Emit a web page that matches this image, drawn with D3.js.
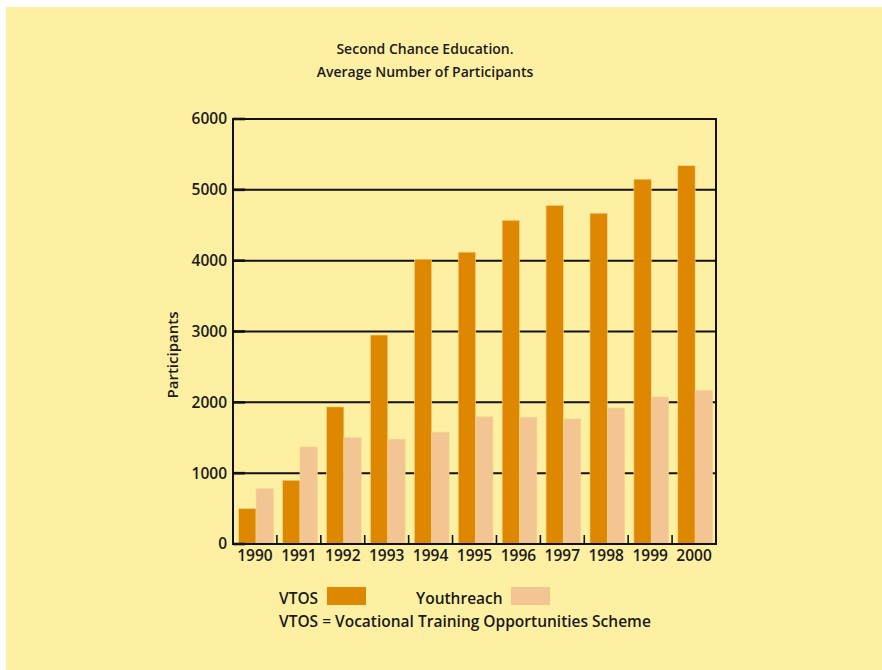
<!DOCTYPE html>
<html>
<head>
<meta charset="utf-8">
<script src="https://cdn.jsdelivr.net/npm/d3@7"></script>
<style>
  body { margin: 0; background: #fff; }
  text { font-family: "Open Sans", "DejaVu Sans", sans-serif; font-weight: 600; fill: #1a1a1a; }
</style>
</head>
<body>
<svg id="chart" width="882" height="670"></svg>
<script>
const years = ["1990", "1991", "1992", "1993", "1994", "1995", "1996", "1997", "1998", "1999", "2000"];
const vtos = [500, 900, 1935, 2950, 4020, 4120, 4570, 4780, 4670, 5150, 5340];
const youthreach = [780, 1370, 1500, 1480, 1580, 1795, 1790, 1765, 1920, 2075, 2165];
const seriesNames = ["VTOS", "Youthreach"];
const seriesColors = ["#de8700", "#f2c592"];
const yTicks = [0, 1000, 2000, 3000, 4000, 5000, 6000];

const svg = d3.select('#chart');

// page background
svg.append('rect')
    .attr('x', 6).attr('y', 7)
    .attr('width', 882).attr('height', 670)
    .attr('fill', '#fef0a3');

const plotLeft = 233, plotRight = 716, plotTop = 119, plotBottom = 544;

const x0 = d3.scaleBand().domain(years).range([plotLeft, plotRight]);
const x1 = d3.scaleBand().domain(seriesNames)
    .range([x0.bandwidth() * 0.13, x0.bandwidth() * 0.92]);
const y = d3.scaleLinear().domain([0, 6000]).range([plotBottom, plotTop]);

// title
svg.append('text').attr('x', 425).attr('y', 54).attr('text-anchor', 'middle')
    .attr('font-size', 14).text('Second Chance Education.');
svg.append('text').attr('x', 425).attr('y', 77).attr('text-anchor', 'middle')
    .attr('font-size', 14).text('Average Number of Participants');

// gridlines
svg.append('g').selectAll('line')
    .data(yTicks.filter(d => d > 0))
    .enter().append('line')
    .attr('x1', plotLeft).attr('x2', plotRight)
    .attr('y1', d => y(d)).attr('y2', d => y(d))
    .attr('stroke', '#111').attr('stroke-width', 2);

// bars
const data = years.map((yr, i) => ({ year: yr, values: [vtos[i], youthreach[i]] }));
svg.append('g').selectAll('g')
    .data(data)
    .enter().append('g')
    .attr('transform', d => `translate(${x0(d.year)},0)`)
    .selectAll('rect')
    .data(d => d.values.map((v, i) => ({ key: seriesNames[i], value: v, color: seriesColors[i] })))
    .enter().append('rect')
    .attr('x', d => x1(d.key))
    .attr('y', d => y(d.value))
    .attr('width', x1.bandwidth())
    .attr('height', d => y(0) - y(d.value))
    .attr('fill', d => d.color)
    .attr('stroke', '#f6d48a')
    .attr('stroke-width', 0.6);

// frame: left axis, right border, baseline
const frame = svg.append('g').attr('stroke', '#111').attr('fill', 'none');
frame.append('line').attr('x1', plotLeft).attr('x2', plotLeft).attr('y1', plotTop - 1).attr('y2', plotBottom + 1).attr('stroke-width', 2);
frame.append('line').attr('x1', plotRight).attr('x2', plotRight).attr('y1', plotTop - 1).attr('y2', plotBottom + 1).attr('stroke-width', 2);
frame.append('line').attr('x1', plotLeft).attr('x2', plotRight).attr('y1', plotBottom).attr('y2', plotBottom).attr('stroke-width', 2);

// y axis labels + small outer ticks
const yAxis = d3.axisLeft(y).tickValues(yTicks).tickFormat(d3.format('d')).tickSize(0).tickPadding(6);
const yg = svg.append('g').attr('transform', `translate(${plotLeft},0)`).call(yAxis);
yg.select('.domain').remove();
yg.selectAll('text').attr('font-size', 15.5).attr('fill', '#1a1a1a')
    .style('font-family', '"Open Sans", sans-serif').style('font-weight', 600);
svg.append('g').selectAll('line')
    .data(yTicks)
    .enter().append('line')
    .attr('x1', plotLeft).attr('x2', plotLeft + 12)
    .attr('y1', d => y(d)).attr('y2', d => y(d))
    .attr('stroke', '#111').attr('stroke-width', 2.6);

// x axis: labels, inner ticks between years
const xAxis = d3.axisBottom(x0).tickSize(0).tickPadding(6);
const xg = svg.append('g').attr('transform', `translate(0,${plotBottom})`).call(xAxis);
xg.select('.domain').remove();
xg.selectAll('text').attr('font-size', 15.5).attr('fill', '#1a1a1a')
    .style('font-family', '"Open Sans", sans-serif').style('font-weight', 600);
svg.append('g').selectAll('line')
    .data(years.slice(1))
    .enter().append('line')
    .attr('x1', d => x0(d)).attr('x2', d => x0(d))
    .attr('y1', plotBottom).attr('y2', plotBottom - 9)
    .attr('stroke', '#111').attr('stroke-width', 1.6);

// y title
svg.append('text')
    .attr('transform', 'translate(178,355) rotate(-90)')
    .attr('text-anchor', 'middle')
    .attr('font-size', 15)
    .text('Participants');

// legend
const legendItems = [
    { name: seriesNames[0], tx: 279, sx: 327 },
    { name: seriesNames[1], tx: 416, sx: 511 }
];
const legend = svg.append('g');
legendItems.forEach((d, i) => {
    legend.append('text').attr('x', d.tx).attr('y', 604).attr('font-size', 15.5).text(d.name);
    legend.append('rect').attr('x', d.sx).attr('y', 587).attr('width', 39).attr('height', 18)
        .attr('fill', seriesColors[i]);
});
legend.append('text').attr('x', 279).attr('y', 627).attr('font-size', 15.5)
    .text('VTOS = Vocational Training Opportunities Scheme');
</script>
</body>
</html>
